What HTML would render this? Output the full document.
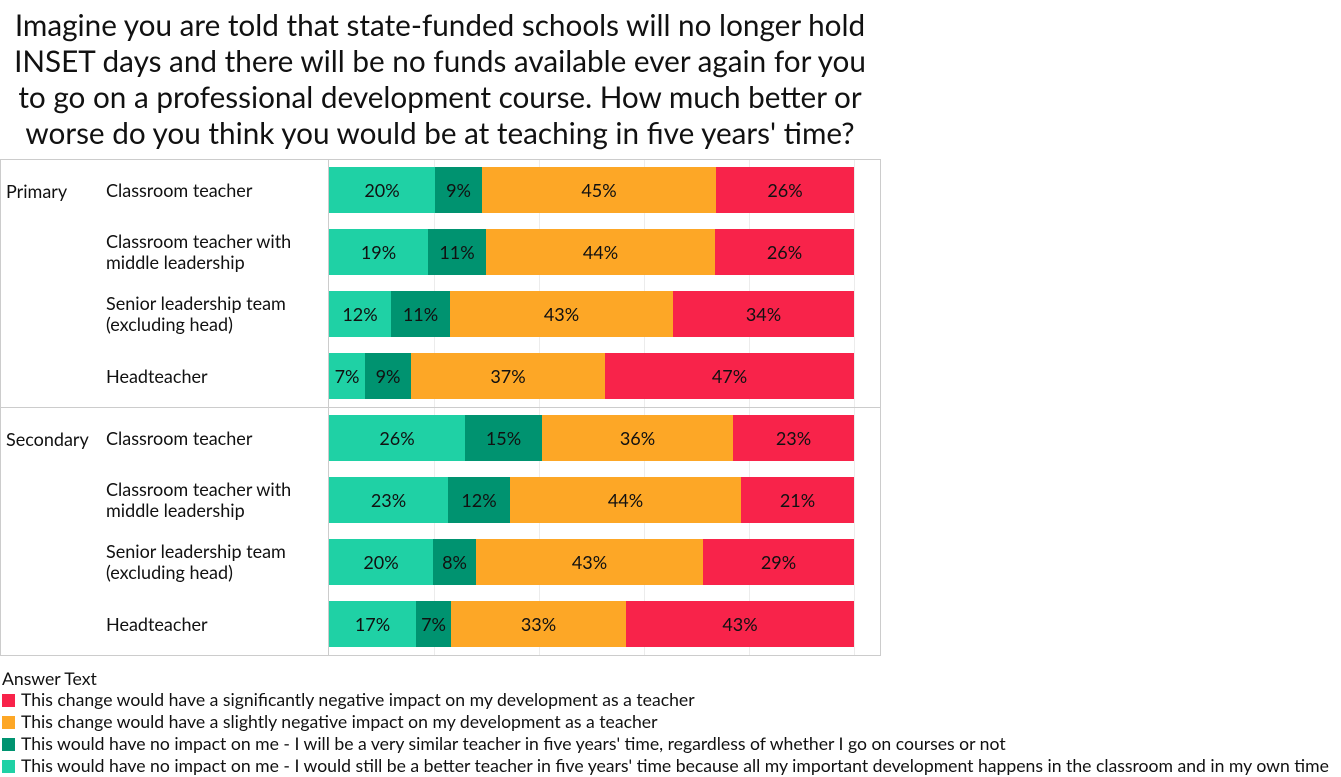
<!DOCTYPE html>
<html><head><meta charset="utf-8"><style>
body{margin:0;width:1341px;height:777px;background:#fff;font-family:"Lato","Liberation Sans",sans-serif;color:#111;position:relative;overflow:hidden}
.t{position:absolute;left:0;width:880px;text-align:center;font-size:29.7px;line-height:36px;top:8px}
.box{position:absolute;left:0;top:159px;width:879px;height:495px;border:1px solid #ccc}
.vl{position:absolute;left:328px;top:159px;width:1px;height:497px;background:#ccc}
.hl{position:absolute;left:0;top:407px;width:880px;height:1px;background:#ccc}
.g{position:absolute;top:160px;width:1px;height:495px;background:#ececec}
.bar{position:absolute;left:329px;width:525px;height:46px;display:flex}
.bar div{height:100%;display:flex;align-items:center;justify-content:center;font-size:18px;overflow:hidden;white-space:nowrap}
.a{background:#1fd1a5}.b{background:#009370}.c{background:#fda726}.d{background:#f8234a}
.lab{position:absolute;left:106px;font-size:18px;line-height:21px}
.grp{position:absolute;left:6px;font-size:18px}
.lg{position:absolute;left:2px;font-size:17.6px;line-height:22px;white-space:nowrap}
.lg span{display:inline-block;width:13px;height:13px;margin-right:6px;vertical-align:-1px}
</style></head><body>
<div class="t">Imagine you are told that state-funded schools will no longer hold<br>INSET days and there will be no funds available ever again for you<br>to go on a professional development course. How much better or<br>worse do you think you would be at teaching in five years' time?</div>
<div class="box"></div>
<div class="g" style="left:434px"></div><div class="g" style="left:539px"></div><div class="g" style="left:644px"></div><div class="g" style="left:749px"></div><div class="g" style="left:854px"></div>
<div class="vl"></div><div class="hl"></div>
<div class="grp" style="top:180px">Primary</div>
<div class="grp" style="top:428px">Secondary</div>
<div class="lab" style="top:180px">Classroom teacher</div>
<div class="lab" style="top:231px">Classroom teacher with<br>middle leadership</div>
<div class="lab" style="top:293px">Senior leadership team<br>(excluding head)</div>
<div class="lab" style="top:366px">Headteacher</div>
<div class="lab" style="top:428px">Classroom teacher</div>
<div class="lab" style="top:479px">Classroom teacher with<br>middle leadership</div>
<div class="lab" style="top:541px">Senior leadership team<br>(excluding head)</div>
<div class="lab" style="top:614px">Headteacher</div>

<div class="bar" style="top:167px"><div class="a" style="width:106px">20%</div><div class="b" style="width:47px">9%</div><div class="c" style="width:234px">45%</div><div class="d" style="flex:1">26%</div></div>
<div class="bar" style="top:229px"><div class="a" style="width:99px">19%</div><div class="b" style="width:58px">11%</div><div class="c" style="width:229px">44%</div><div class="d" style="flex:1">26%</div></div>
<div class="bar" style="top:291px"><div class="a" style="width:62px">12%</div><div class="b" style="width:59px">11%</div><div class="c" style="width:223px">43%</div><div class="d" style="flex:1">34%</div></div>
<div class="bar" style="top:353px"><div class="a" style="width:36px">7%</div><div class="b" style="width:46px">9%</div><div class="c" style="width:194px">37%</div><div class="d" style="flex:1">47%</div></div>
<div class="bar" style="top:415px"><div class="a" style="width:136px">26%</div><div class="b" style="width:77px">15%</div><div class="c" style="width:191px">36%</div><div class="d" style="flex:1">23%</div></div>
<div class="bar" style="top:477px"><div class="a" style="width:119px">23%</div><div class="b" style="width:62px">12%</div><div class="c" style="width:231px">44%</div><div class="d" style="flex:1">21%</div></div>
<div class="bar" style="top:539px"><div class="a" style="width:104px">20%</div><div class="b" style="width:43px">8%</div><div class="c" style="width:227px">43%</div><div class="d" style="flex:1">29%</div></div>
<div class="bar" style="top:601px"><div class="a" style="width:87px">17%</div><div class="b" style="width:35px">7%</div><div class="c" style="width:175px">33%</div><div class="d" style="flex:1">43%</div></div>

<div class="lg" style="top:668px">Answer Text</div>
<div class="lg" style="top:689px"><span class="d"></span>This change would have a significantly negative impact on my development as a teacher</div>
<div class="lg" style="top:711px"><span class="c"></span>This change would have a slightly negative impact on my development as a teacher</div>
<div class="lg" style="top:733px"><span class="b"></span>This would have no impact on me - I will be a very similar teacher in five years' time, regardless of whether I go on courses or not</div>
<div class="lg" style="top:755px"><span class="a"></span>This would have no impact on me - I would still be a better teacher in five years' time because all my important development happens in the classroom and in my own time</div>
</body></html>
